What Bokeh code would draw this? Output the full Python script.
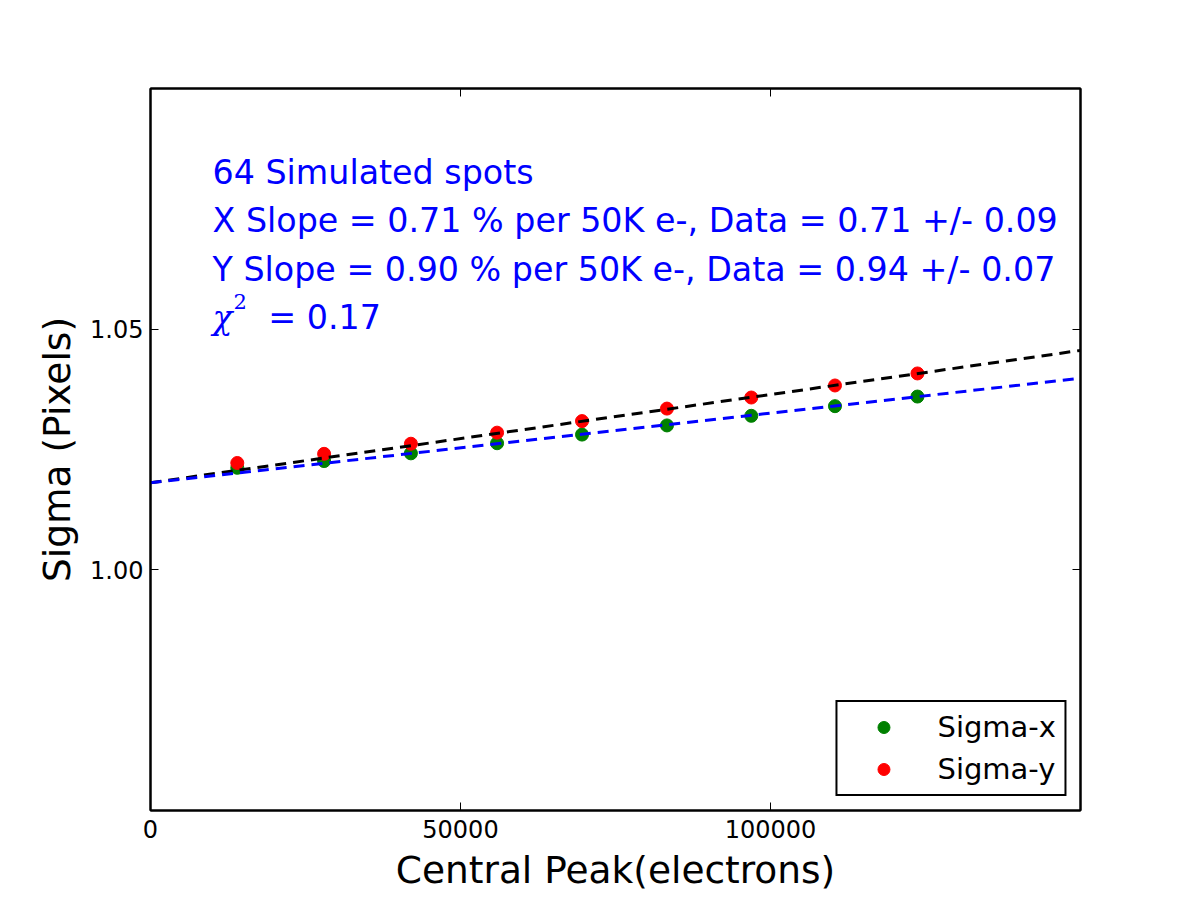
from bokeh.plotting import figure
from bokeh.models import (Range1d, FixedTicker, PrintfTickFormatter, LinearAxis,
                          Label, Legend, LegendItem)
from bokeh.embed import file_html
from bokeh.resources import INLINE

# Central peak brightness of each spot group (electrons)
peak = [14000, 28000, 42000, 55900, 69600, 83300, 96900, 110400, 123700]
# Measured spot widths (pixels)
sigma_x = [1.0212, 1.0226, 1.0242, 1.0263, 1.0281, 1.0300, 1.0320, 1.0340, 1.0360]
sigma_y = [1.0222, 1.0241, 1.0262, 1.0285, 1.0309, 1.0335, 1.0358, 1.0383, 1.0408]

# Fitted lines: intercept and slope in % per 50K electrons
fit_intercept = 1.0181
x_slope_pct = 0.71
y_slope_pct = 0.90
fit_x = [0, 150000]
fit_sx = [fit_intercept * (1 + x_slope_pct / 100 * v / 50000) for v in fit_x]
fit_sy = [fit_intercept * (1 + y_slope_pct / 100 * v / 50000) for v in fit_x]

x_ticks = [0, 50000, 100000]
y_ticks = [1.00, 1.05]

FONT = "DejaVu Sans"

p = figure(width=1200, height=900, output_backend="svg", toolbar_location=None,
           x_range=Range1d(0, 150000), y_range=Range1d(0.95, 1.10),
           min_border_left=150, min_border_right=120,
           min_border_top=88, min_border_bottom=90)
p.xgrid.visible = False
p.ygrid.visible = False
p.outline_line_color = "black"
p.outline_line_width = 2
p.background_fill_color = "white"
p.border_fill_color = "white"

def style_axis(ax, show_labels=True):
    ax.major_tick_in = 8
    ax.major_tick_out = 0
    ax.minor_tick_line_color = None
    ax.axis_line_color = "black"
    ax.axis_line_width = 2
    ax.major_tick_line_color = "black"
    ax.major_tick_line_width = 1
    ax.major_label_text_font = FONT
    ax.major_label_text_font_size = "24px"
    ax.major_label_text_color = "black"
    ax.axis_label_text_color = "black"
    if not show_labels:
        ax.major_label_text_font_size = "0px"
        ax.major_label_text_color = None

xa = p.xaxis[0]
xa.ticker = FixedTicker(ticks=x_ticks)
xa.formatter = PrintfTickFormatter(format="%d")
xa.axis_label = "Central Peak(electrons)"
xa.axis_label_text_font = FONT
xa.axis_label_text_font_size = "37.5px"
xa.axis_label_text_font_style = "normal"
xa.major_label_standoff = 9
xa.axis_label_standoff = 7
style_axis(xa)

ya = p.yaxis[0]
ya.ticker = FixedTicker(ticks=y_ticks)
ya.formatter = PrintfTickFormatter(format="%.2f")
ya.axis_label = "Sigma (Pixels)"
ya.axis_label_text_font = FONT
ya.axis_label_text_font_size = "37.5px"
ya.axis_label_text_font_style = "normal"
ya.major_label_standoff = 7
ya.axis_label_standoff = 8
style_axis(ya)

top_ax = LinearAxis(ticker=FixedTicker(ticks=x_ticks))
style_axis(top_ax, show_labels=False)
p.add_layout(top_ax, "above")
right_ax = LinearAxis(ticker=FixedTicker(ticks=y_ticks))
style_axis(right_ax, show_labels=False)
p.add_layout(right_ax, "right")

# Measured points
rx = p.scatter(peak, sigma_x, size=13, color="green", line_color="green")
ry = p.scatter(peak, sigma_y, size=13, color="red", line_color="red")

# Fit lines drawn on top of the points
p.line(fit_x, fit_sy, line_color="black", line_width=3, line_dash="11 7")
p.line(fit_x, fit_sx, line_color="blue", line_width=3, line_dash="11 7")

# Annotation block
TEXT_SHIFT = 12
lines = [
    ("64 Simulated spots", 1.08),
    ("X Slope = %.2f %% per 50K e-, Data = 0.71 +/- 0.09" % x_slope_pct, 1.07),
    ("Y Slope = %.2f %% per 50K e-, Data = 0.94 +/- 0.07" % y_slope_pct, 1.06),
]
for txt, yy in lines:
    p.add_layout(Label(x=10000, y=yy, y_offset=TEXT_SHIFT, text=txt,
                       text_color="blue", text_font=FONT,
                       text_font_size="33.3px", text_baseline="alphabetic",
                       text_align="left"))
p.add_layout(Label(x=10000, y=1.05, y_offset=TEXT_SHIFT, text="χ",
                   text_color="blue", text_font="DejaVu Serif",
                   text_font_style="italic", text_font_size="33px",
                   text_baseline="alphabetic"))
p.add_layout(Label(x=13400, y=1.0532, y_offset=TEXT_SHIFT, text="2",
                   text_color="blue", text_font="DejaVu Serif",
                   text_font_size="21px", text_baseline="alphabetic"))
p.add_layout(Label(x=19000, y=1.05, y_offset=TEXT_SHIFT, text="= 0.17",
                   text_color="blue", text_font=FONT, text_font_size="33.3px",
                   text_baseline="alphabetic"))

legend = Legend(items=[LegendItem(label="Sigma-x", renderers=[rx]),
                       LegendItem(label="Sigma-y", renderers=[ry])],
                location="bottom_right")
legend.label_text_font = FONT
legend.label_text_font_size = "29px"
legend.label_text_color = "black"
legend.border_line_color = "black"
legend.border_line_alpha = 1
legend.border_line_width = 2
legend.background_fill_alpha = 1
legend.margin = 14
legend.padding = 8
legend.spacing = 8
legend.glyph_width = 76
legend.glyph_height = 30
legend.label_standoff = 16
legend.label_height = 30
p.add_layout(legend)

open("out.html", "w").write(file_html(p, INLINE))
